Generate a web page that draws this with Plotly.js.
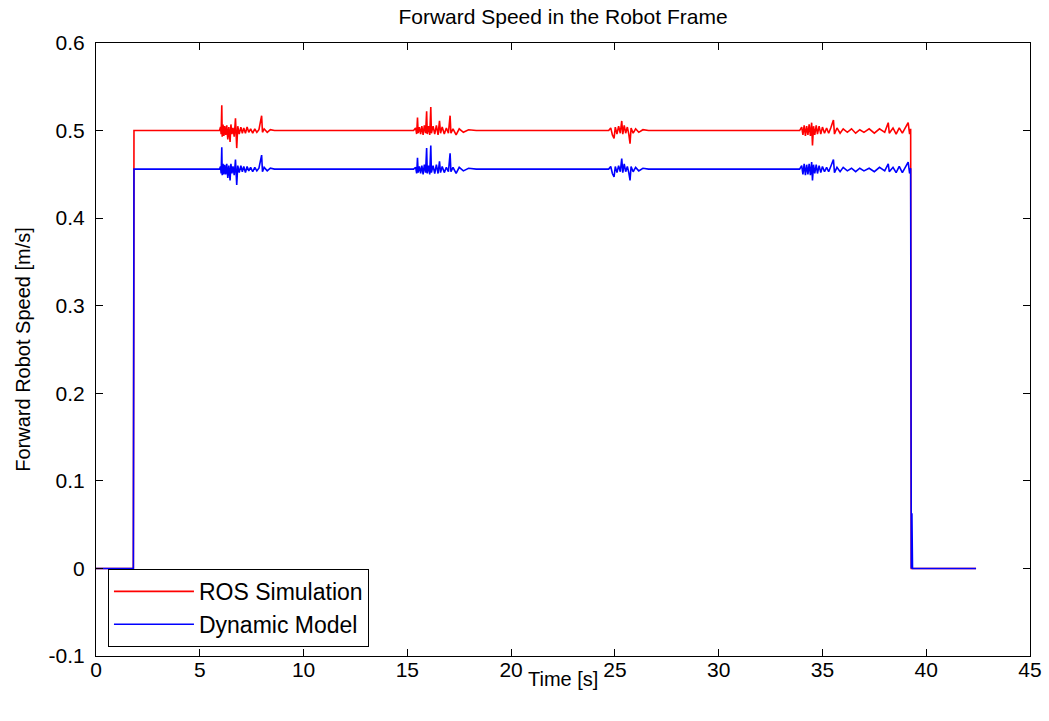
<!DOCTYPE html>
<html>
<head>
<meta charset="utf-8">
<script src="https://cdn.plot.ly/plotly-3.0.1.min.js"></script>
<style>html,body{margin:0;padding:0;background:#fff;}#chart{width:1049px;height:721px;}</style>
</head>
<body>
<div id="chart"></div>
<script>
// Time samples [s]
const time = [
  0, 1.80, 1.83, 2.60, 2.62, 3.40, 3.42, 4.20, 4.22, 5.00,
  5.02, 5.60, 5.62, 5.95, 6.00, 6.03, 6.06, 6.08, 6.12, 6.16,
  6.20, 6.25, 6.30, 6.35, 6.40, 6.46, 6.50, 6.55, 6.60, 6.66,
  6.72, 6.78, 6.83, 6.90, 6.98, 7.05, 7.12, 7.20, 7.28, 7.36,
  7.45, 7.55, 7.65, 7.75, 7.85, 7.98, 8.02, 8.10, 8.25, 8.40,
  8.60, 8.62, 9.50, 9.52, 10.40, 10.42, 11.40, 11.42, 12.50, 12.52,
  13.60, 13.62, 14.50, 14.52, 15.30, 15.40, 15.45, 15.49, 15.52, 15.58,
  15.64, 15.70, 15.76, 15.82, 15.88, 15.93, 15.96, 16.02, 16.08, 16.13,
  16.16, 16.24, 16.32, 16.40, 16.48, 16.55, 16.60, 16.68, 16.78, 16.88,
  16.98, 17.06, 17.10, 17.20, 17.35, 17.50, 17.70, 17.95, 18.30, 18.32,
  19.30, 19.32, 20.50, 20.52, 21.70, 21.72, 22.90, 22.92, 24.10, 24.70,
  24.80, 24.88, 24.96, 25.02, 25.10, 25.18, 25.26, 25.33, 25.38, 25.45,
  25.52, 25.60, 25.67, 25.73, 25.78, 25.88, 26.00, 26.15, 26.35, 26.60,
  26.62, 27.60, 27.62, 28.80, 28.82, 30.00, 30.02, 31.20, 31.22, 32.40,
  32.42, 33.50, 33.90, 34.00, 34.06, 34.12, 34.18, 34.24, 34.30, 34.36,
  34.42, 34.48, 34.52, 34.57, 34.63, 34.70, 34.76, 34.84, 34.92, 35.00,
  35.10, 35.20, 35.30, 35.40, 35.53, 35.58, 35.70, 35.85, 36.00, 36.20,
  36.40, 36.60, 36.80, 37.00, 37.25, 37.50, 37.75, 38.00, 38.17, 38.22,
  38.40, 38.55, 38.70, 38.85, 39.00, 39.13, 39.20, 39.25, 39.28, 39.31,
  39.34, 42.40
];
// ROS Simulation forward speed [m/s]
const rosSpeed = [
  0, 0, 0.500, 0.500, 0.500, 0.500, 0.500, 0.500, 0.500, 0.500,
  0.500, 0.500, 0.500, 0.500, 0.504, 0.496, 0.529, 0.493, 0.507, 0.494,
  0.505, 0.495, 0.506, 0.490, 0.504, 0.487, 0.507, 0.496, 0.503, 0.493,
  0.514, 0.480, 0.505, 0.496, 0.504, 0.497, 0.503, 0.497, 0.504, 0.498,
  0.502, 0.497, 0.502, 0.498, 0.501, 0.517, 0.498, 0.502, 0.498, 0.501,
  0.500, 0.500, 0.500, 0.500, 0.500, 0.500, 0.500, 0.500, 0.500, 0.500,
  0.500, 0.500, 0.500, 0.500, 0.500, 0.503, 0.496, 0.515, 0.497, 0.504,
  0.496, 0.505, 0.495, 0.506, 0.497, 0.522, 0.496, 0.505, 0.495, 0.527,
  0.497, 0.505, 0.496, 0.506, 0.495, 0.511, 0.497, 0.504, 0.496, 0.503,
  0.497, 0.517, 0.497, 0.502, 0.495, 0.502, 0.498, 0.501, 0.500, 0.500,
  0.500, 0.500, 0.500, 0.500, 0.500, 0.500, 0.500, 0.500, 0.500, 0.500,
  0.503, 0.495, 0.491, 0.504, 0.496, 0.505, 0.497, 0.511, 0.496, 0.506,
  0.497, 0.504, 0.496, 0.485, 0.503, 0.497, 0.502, 0.498, 0.501, 0.500,
  0.500, 0.500, 0.500, 0.500, 0.500, 0.500, 0.500, 0.500, 0.500, 0.500,
  0.500, 0.500, 0.500, 0.504, 0.495, 0.506, 0.494, 0.505, 0.495, 0.507,
  0.494, 0.509, 0.483, 0.505, 0.495, 0.506, 0.496, 0.505, 0.496, 0.504,
  0.497, 0.503, 0.497, 0.503, 0.512, 0.496, 0.503, 0.497, 0.502, 0.498,
  0.502, 0.497, 0.501, 0.498, 0.502, 0.497, 0.502, 0.498, 0.509, 0.497,
  0.503, 0.496, 0.503, 0.497, 0.504, 0.509, 0.496, 0.502, 0, 0,
  0, 0
];
// Dynamic Model forward speed [m/s]
const modelSpeed = [
  0, 0, 0.456, 0.456, 0.456, 0.456, 0.456, 0.456, 0.456, 0.456,
  0.456, 0.456, 0.456, 0.456, 0.459, 0.451, 0.481, 0.449, 0.462, 0.450,
  0.461, 0.450, 0.462, 0.446, 0.460, 0.443, 0.462, 0.451, 0.459, 0.449,
  0.467, 0.438, 0.460, 0.452, 0.460, 0.453, 0.459, 0.452, 0.459, 0.454,
  0.458, 0.453, 0.458, 0.454, 0.457, 0.472, 0.453, 0.458, 0.454, 0.457,
  0.456, 0.456, 0.456, 0.456, 0.456, 0.456, 0.456, 0.456, 0.456, 0.456,
  0.456, 0.456, 0.456, 0.456, 0.456, 0.458, 0.451, 0.469, 0.452, 0.459,
  0.451, 0.460, 0.450, 0.461, 0.452, 0.480, 0.451, 0.460, 0.450, 0.483,
  0.452, 0.460, 0.451, 0.461, 0.451, 0.465, 0.452, 0.459, 0.452, 0.458,
  0.453, 0.474, 0.453, 0.458, 0.451, 0.458, 0.454, 0.457, 0.456, 0.456,
  0.456, 0.456, 0.456, 0.456, 0.456, 0.456, 0.456, 0.456, 0.456, 0.456,
  0.459, 0.451, 0.447, 0.459, 0.452, 0.460, 0.453, 0.468, 0.452, 0.462,
  0.453, 0.459, 0.452, 0.443, 0.459, 0.453, 0.458, 0.454, 0.457, 0.456,
  0.456, 0.456, 0.456, 0.456, 0.456, 0.456, 0.456, 0.456, 0.456, 0.456,
  0.456, 0.456, 0.456, 0.460, 0.450, 0.462, 0.449, 0.461, 0.450, 0.462,
  0.449, 0.464, 0.443, 0.461, 0.451, 0.461, 0.451, 0.460, 0.452, 0.459,
  0.453, 0.458, 0.453, 0.459, 0.467, 0.452, 0.458, 0.453, 0.458, 0.454,
  0.457, 0.453, 0.457, 0.454, 0.457, 0.453, 0.458, 0.454, 0.462, 0.453,
  0.458, 0.452, 0.459, 0.452, 0.459, 0.464, 0.451, 0.457, 0, 0.063,
  0, 0
];
const seriesNames = ['ROS Simulation', 'Dynamic Model'];
const xTickVals = [0, 5, 10, 15, 20, 25, 30, 35, 40, 45];
const yTickVals = [-0.1, 0, 0.1, 0.2, 0.3, 0.4, 0.5, 0.6];
const yTickText = ['-0.1', '0', '0.1', '0.2', '0.3', '0.4', '0.5', '0.6'];
const titleText = 'Forward Speed in the Robot Frame';
const xTitleText = 'Time [s]';
const yTitleText = 'Forward Robot Speed [m/s]';

const FONT = 'Liberation Sans, Arial, Helvetica, sans-serif';

const traces = [
  {x: time, y: rosSpeed, type: 'scatter', mode: 'lines', name: seriesNames[0],
   line: {color: 'rgb(255,0,0)', width: 1.6}},
  {x: time, y: modelSpeed, type: 'scatter', mode: 'lines', name: seriesNames[1],
   line: {color: 'rgb(0,0,255)', width: 1.6}}
];

const axisCommon = {
  showline: true, linecolor: '#000', linewidth: 1, mirror: 'ticks',
  ticks: 'inside', ticklen: 7, tickcolor: '#000', tickwidth: 1,
  showgrid: false, zeroline: false,
  tickfont: {family: FONT, size: 21, color: '#000'}
};

const layout = {
  width: 1049, height: 721,
  margin: {l: 96, r: 19, t: 43, b: 65, pad: 0},
  paper_bgcolor: '#fff', plot_bgcolor: '#fff',
  font: {family: FONT, color: '#000'},
  title: {text: titleText, font: {family: FONT, size: 21, color: '#000'},
          x: 0.5, xref: 'paper', y: 0.977, yref: 'container', yanchor: 'middle'},
  xaxis: Object.assign({}, axisCommon, {range: [0, 45], tickvals: xTickVals, ticklabelstandoff: -5}),
  yaxis: Object.assign({}, axisCommon, {
    range: [-0.1, 0.6], tickvals: yTickVals, ticktext: yTickText, ticklabelstandoff: 6,
    title: {text: yTitleText, font: {family: FONT, size: 20, color: '#000'}, standoff: 12}
  }),
  annotations: [{
    text: xTitleText, xref: 'paper', yref: 'paper', x: 0.5, y: -0.038,
    xanchor: 'center', yanchor: 'middle', showarrow: false,
    font: {family: FONT, size: 20, color: '#000'}
  }],
  showlegend: true,
  legend: {
    x: 0.0128, y: 0.142, xanchor: 'left', yanchor: 'top',
    bgcolor: '#fff', bordercolor: '#000', borderwidth: 1,
    font: {family: FONT, size: 23, color: '#000'},
    tracegroupgap: 0, itemwidth: 80
  }
};

Plotly.newPlot('chart', traces, layout, {staticPlot: true, displayModeBar: false});
</script>
</body>
</html>
